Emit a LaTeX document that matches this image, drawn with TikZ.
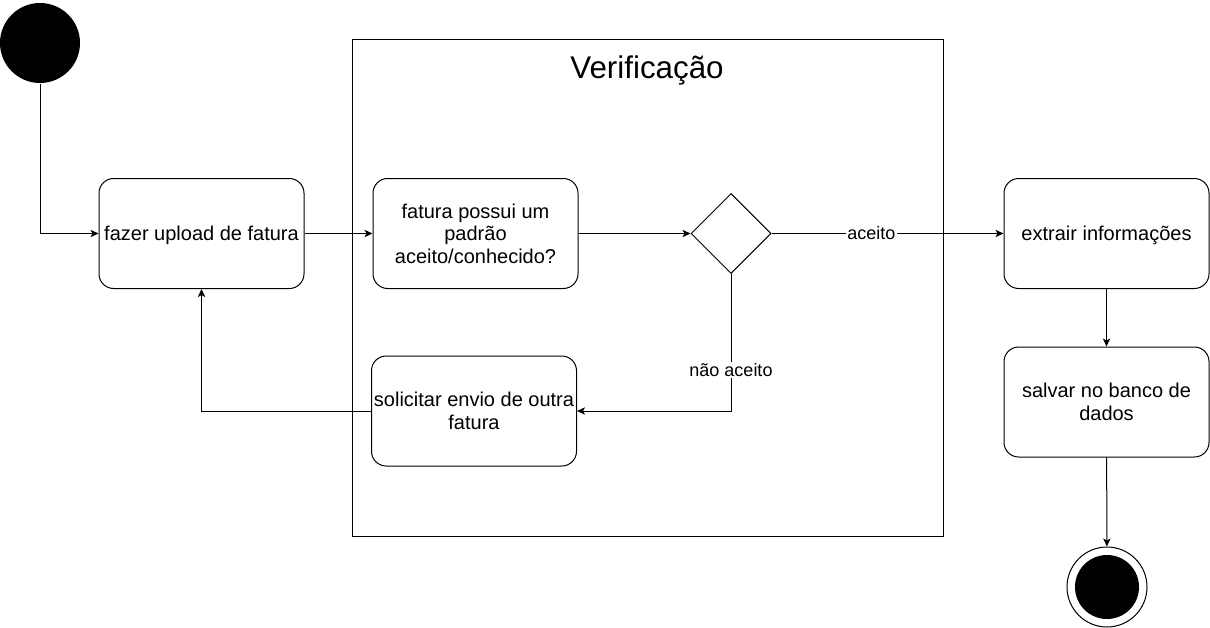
\documentclass[tikz,border=0pt]{standalone}
\usepackage{fontspec}
\setmainfont{Liberation Sans}
\usepackage{tikz}
\usetikzlibrary{shapes.geometric,arrows.meta}

\begin{document}
\begin{tikzpicture}[x=0.75pt,y=-0.75pt,line width=0.75pt,
        atividade/.style={draw,rounded corners=11pt,minimum width=153.75pt,minimum height=82.5pt,
            inner sep=0pt,align=center,text depth=-1.5pt,font=\fontsize{15}{17}\selectfont},
        seta/.style={-{Stealth[length=6pt,width=5.5pt,inset=1.5pt]}},
        rotulo/.style={fill=white,inner sep=1pt,font=\fontsize{13.5}{15}\selectfont}]
        \useasboundingbox (0,0) rectangle (1210,628);

        % bloco de verificacao
        \draw (352,39) rectangle (943,536);
        \node (titulo) at (647,70) {\fontsize{23.5}{26}\selectfont Verificação};

        \node[circle,fill,minimum size=60pt,inner sep=0pt] (inicio) at (40,43) {};
        \node[atividade] (upload) at (201.5,233.5) {fazer upload de fatura};
        \node[atividade] (padrao) at (475.5,233.5) {fatura possui um\\padrão\\aceito/conhecido?};
        \node[diamond,draw,minimum width=60pt,minimum height=60pt,inner sep=0pt] (decisao) at (731,233.5) {};
        \node[atividade] (extrair) at (1106.5,233.5) {extrair informações};
        \node[atividade] (salvar) at (1106.5,402) {salvar no banco de\\dados};
        \node[atividade] (solicitar) at (474,411) {solicitar envio de outra\\fatura};
        \node[circle,draw,minimum size=60pt,inner sep=0pt] (fim) at (1107,587) {};
        \node[circle,fill,minimum size=48pt,inner sep=0pt] (fimcentro) at (fim) {};

        \draw[seta] (inicio) |- (upload);
        \draw[seta] (upload) -- (padrao);
        \draw[seta] (padrao) -- (decisao);
        \draw[seta] (decisao) -- node[rotulo,pos=0.43] {aceito} (extrair);
        \draw[seta] (extrair) -- (salvar);
        \draw[seta] (salvar) -- (fim);
        \draw[seta] (decisao) |- node[rotulo,pos=0.35] {não aceito} (solicitar);
        \draw[seta] (solicitar) -| (upload);
    \end{tikzpicture}
\end{document}
